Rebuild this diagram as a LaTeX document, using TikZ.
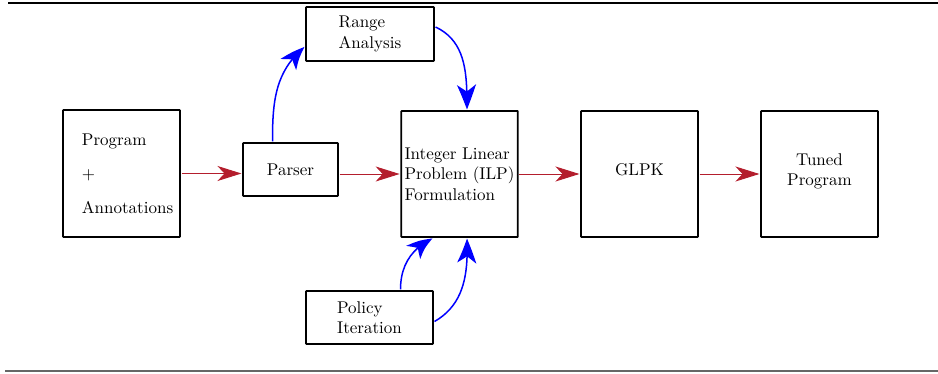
\documentclass[tikz,border=0pt]{standalone}
\usetikzlibrary{arrows.meta,bending}
\definecolor{flowred}{RGB}{180,30,45}
\begin{document}
\begin{tikzpicture}[x=1pt,y=1pt,
  box/.style={draw, line width=1.8pt, rounded corners=0.6pt, scale=1.7, align=left, inner sep=2pt},
  redarrow/.style={draw=flowred, line width=1pt, -{Stealth[length=24pt,width=15pt,inset=7pt]}},
  bluearrow/.style={draw=blue, line width=1.5pt, -{Stealth[length=25pt,width=19pt,inset=7pt,bend]}}]
\useasboundingbox (0,0) rectangle (938,373);
\draw[line width=2pt] (8,370) -- (938,370);
\draw[line width=1.2pt, black!60] (5,2) -- (938,2);

\node[box, minimum width=117pt/1.7, minimum height=127pt/1.7, text width=46.5pt] (prog) at (121.5,199.5)
  {Program\\[8pt]+\\[8pt]Annotations};
\node[box, minimum width=95pt/1.7, minimum height=53pt/1.7] (parser) at (290.5,203.5) {Parser};
\node[box, minimum width=128pt/1.7, minimum height=54pt/1.7] (range) at (370,339) {Range\\Analysis};
\node[box, minimum width=115pt/1.7, minimum height=126pt/1.7] (ilp) at (459.5,199)
  {Integer Linear\\Problem (ILP)\\Formulation};
\node[box, minimum width=117pt/1.7, minimum height=126pt/1.7, text depth=4.7pt] (glpk) at (639.5,199) {GLPK};
\node[box, minimum width=117pt/1.7, minimum height=126pt/1.7, align=center, text depth=5pt] (tuned) at (819.5,199) {Tuned\\Program};
\node[box, minimum width=127pt/1.7, minimum height=53pt/1.7] (policy) at (369.5,55.5) {Policy\\Iteration};

\draw[redarrow] (prog.east) -- (prog.east -| parser.west);
\draw[redarrow] (parser.east |- ilp.west) -- (ilp.west);
\draw[redarrow] (ilp.east) -- (glpk.west);
\draw[redarrow] (glpk.east) -- (tuned.west);

\draw[bluearrow] ([xshift=-18pt]parser.north) to[out=90,in=-140] ([yshift=-13pt]range.west);
\draw[bluearrow] ([yshift=7pt]range.east) to[out=-25,in=90] ([xshift=7.5pt]ilp.north);
\draw[bluearrow] ([xshift=31pt]policy.north) to[out=90,in=-155] ([xshift=-27pt]ilp.south);
\draw[bluearrow] ([yshift=-4pt]policy.east) to[out=30,in=-88] ([xshift=7.5pt]ilp.south);
\end{tikzpicture}
\end{document}
